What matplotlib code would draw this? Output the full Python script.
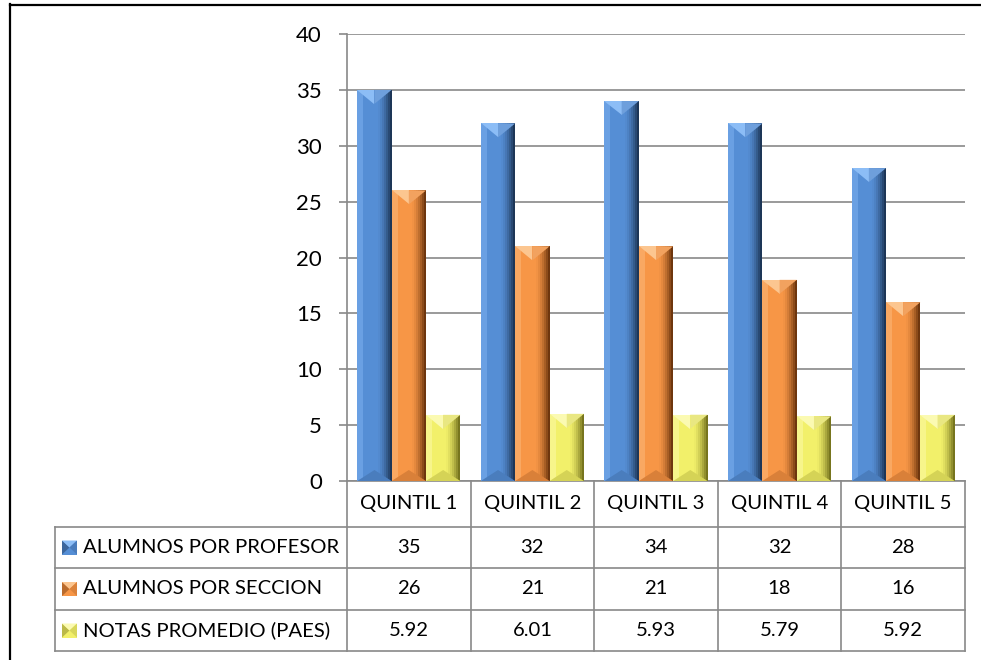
import matplotlib.pyplot as plt
from matplotlib.patches import Polygon
from matplotlib.lines import Line2D
from matplotlib.colors import to_rgb
from matplotlib.transforms import IdentityTransform, blended_transform_factory

plt.rcParams['font.family'] = ['Lato', 'DejaVu Sans']

quintiles = ['QUINTIL 1', 'QUINTIL 2', 'QUINTIL 3', 'QUINTIL 4', 'QUINTIL 5']
series = ['ALUMNOS POR PROFESOR', 'ALUMNOS POR SECCION', 'NOTAS PROMEDIO (PAES)']
alumnos_profesor = [35, 32, 34, 32, 28]
alumnos_seccion = [26, 21, 21, 18, 16]
notas_paes = [5.92, 6.01, 5.93, 5.79, 5.92]
formatos = ['{:.0f}', '{:.0f}', '{:.2f}']

# cara, borde izq, arriba izq, arriba der, borde oscuro, abajo
paletas = [
    ['#558ed5', '#6aa0e3', '#8cbdf6', '#6e9fdc', '#1d3657', '#4a7dbd'],
    ['#f79646', '#f9a862', '#fcc690', '#f2a25f', '#6e360e', '#d98039'],
    ['#f2f06a', '#f7f58b', '#fbfab2', '#e9e782', '#77751e', '#d5d356'],
]
GRIS = '#898989'
FS = 14.6

W, H = 981, 660
fig = plt.figure(figsize=(W / 100, H / 100), dpi=100)
ax = fig.add_axes([347 / W, 1 - 481 / H, 618 / W, 447 / H])

datos = [alumnos_profesor, alumnos_seccion, notas_paes]
x = list(range(len(quintiles)))
ancho = 0.278

ax.set_xlim(-0.5, len(quintiles) - 0.5)
ax.set_ylim(0, 40)
ax.set_yticks(range(0, 41, 5))
ax.set_xticks([])
ax.set_axisbelow(True)
ax.yaxis.grid(True, color=GRIS, lw=1.2)
for s in ['top', 'right']:
    ax.spines[s].set_visible(False)
for s in ['left', 'bottom']:
    ax.spines[s].set_color(GRIS)
    ax.spines[s].set_linewidth(1.2)
ax.tick_params(axis='y', length=6, width=1.2, color=GRIS, pad=12, labelsize=16)


def poly(pts, c, z=3):
    fig.add_artist(Polygon(pts, closed=True, fc=c, ec='none',
                           transform=IdentityTransform(), zorder=z))


def mezcla(c1, c2, t):
    a, b = to_rgb(c1), to_rgb(c2)
    return tuple(a[k] + (b[k] - a[k]) * t for k in range(3))


def bisel(x0, y0, x1, y1, cols):
    xc = (x0 + x1) / 2
    # borde izquierdo claro
    poly([(x0, y0), (x0 + 6, y0), (x0 + 6, y1), (x0, y1)], cols[1])
    # degradado oscuro a la derecha
    n = 7
    for k in range(n):
        xa = x1 - 14 + 2 * k
        poly([(xa, y0), (xa + 2, y0), (xa + 2, y1), (xa, y1)],
             mezcla(cols[0], cols[4], ((k + 1) / n) ** 1.6))
    # punta superior en V e inferior invertida
    poly([(x0, y1), (xc, y1), (xc, y1 - 14)], cols[2], z=4)
    poly([(xc, y1), (x1, y1), (xc, y1 - 14)], cols[3], z=4)
    poly([(x0, y0), (x1, y0), (xc, y0 + 11)], cols[5], z=4)


for i, (vals, cols) in enumerate(zip(datos, paletas)):
    pos = [xi + (i - 1) * ancho for xi in x]
    barras = ax.bar(pos, vals, width=ancho, color=cols[0], zorder=2)
    for b in barras:
        (px0, py0), (px1, py1) = ax.transData.transform(
            [(b.get_x(), b.get_y()), (b.get_x() + b.get_width(), b.get_y() + b.get_height())])
        bisel(px0, py0, px1, py1, cols)

# tabla de datos bajo el grafico
def fy(p):
    return 1 - p / H

filas = [481, 527, 568, 610, 651]
tr_col = blended_transform_factory(ax.transData, fig.transFigure)

for yy in filas[1:]:
    fig.add_artist(Line2D([55 / W, 965 / W], [fy(yy), fy(yy)], color=GRIS, lw=1.2))
fig.add_artist(Line2D([55 / W, 55 / W], [fy(527), fy(651)], color=GRIS, lw=1.2))
for k in range(len(quintiles) + 1):
    fig.add_artist(Line2D([k - 0.5, k - 0.5], [fy(481), fy(651)], color=GRIS, lw=1.2,
                          transform=tr_col))

for k, q in enumerate(quintiles):
    fig.text(k, fy((filas[0] + filas[1]) / 2), q, transform=tr_col,
             ha='center', va='center', fontsize=FS)

for i, (nombre, vals, fmt, cols) in enumerate(zip(series, datos, formatos, paletas)):
    yc = (filas[i + 1] + filas[i + 2]) / 2
    fig.text(83 / W, fy(yc), nombre, ha='left', va='center', fontsize=FS)
    for k, v in enumerate(vals):
        fig.text(k, fy(yc), fmt.format(v), transform=tr_col,
                 ha='center', va='center', fontsize=FS)
    # clave de la serie: cuadro con cuatro triangulos
    ky = H - yc
    kx0, kx1, ky0, ky1 = 62, 77, ky - 7, ky + 7
    kc = ((kx0 + kx1) / 2, ky)
    poly([(kx0, ky0), (kx1, ky0), (kx1, ky1), (kx0, ky1)], cols[0])
    poly([(kx0, ky0), (kx0, ky1), kc], mezcla(cols[0], cols[4], 0.45), z=4)
    poly([(kx0, ky1), (kx1, ky1), kc], cols[2], z=4)
    poly([(kx1, ky0), (kx1, ky1), kc], mezcla(cols[0], cols[4], 0.2), z=4)

# marco exterior
fig.add_artist(Line2D([10 / W, 10 / W], [0, fy(4)], color='black', lw=1.6))
fig.add_artist(Line2D([10 / W, 1], [fy(5), fy(5)], color='black', lw=1.6))

fig.savefig('out.png', dpi=100)
